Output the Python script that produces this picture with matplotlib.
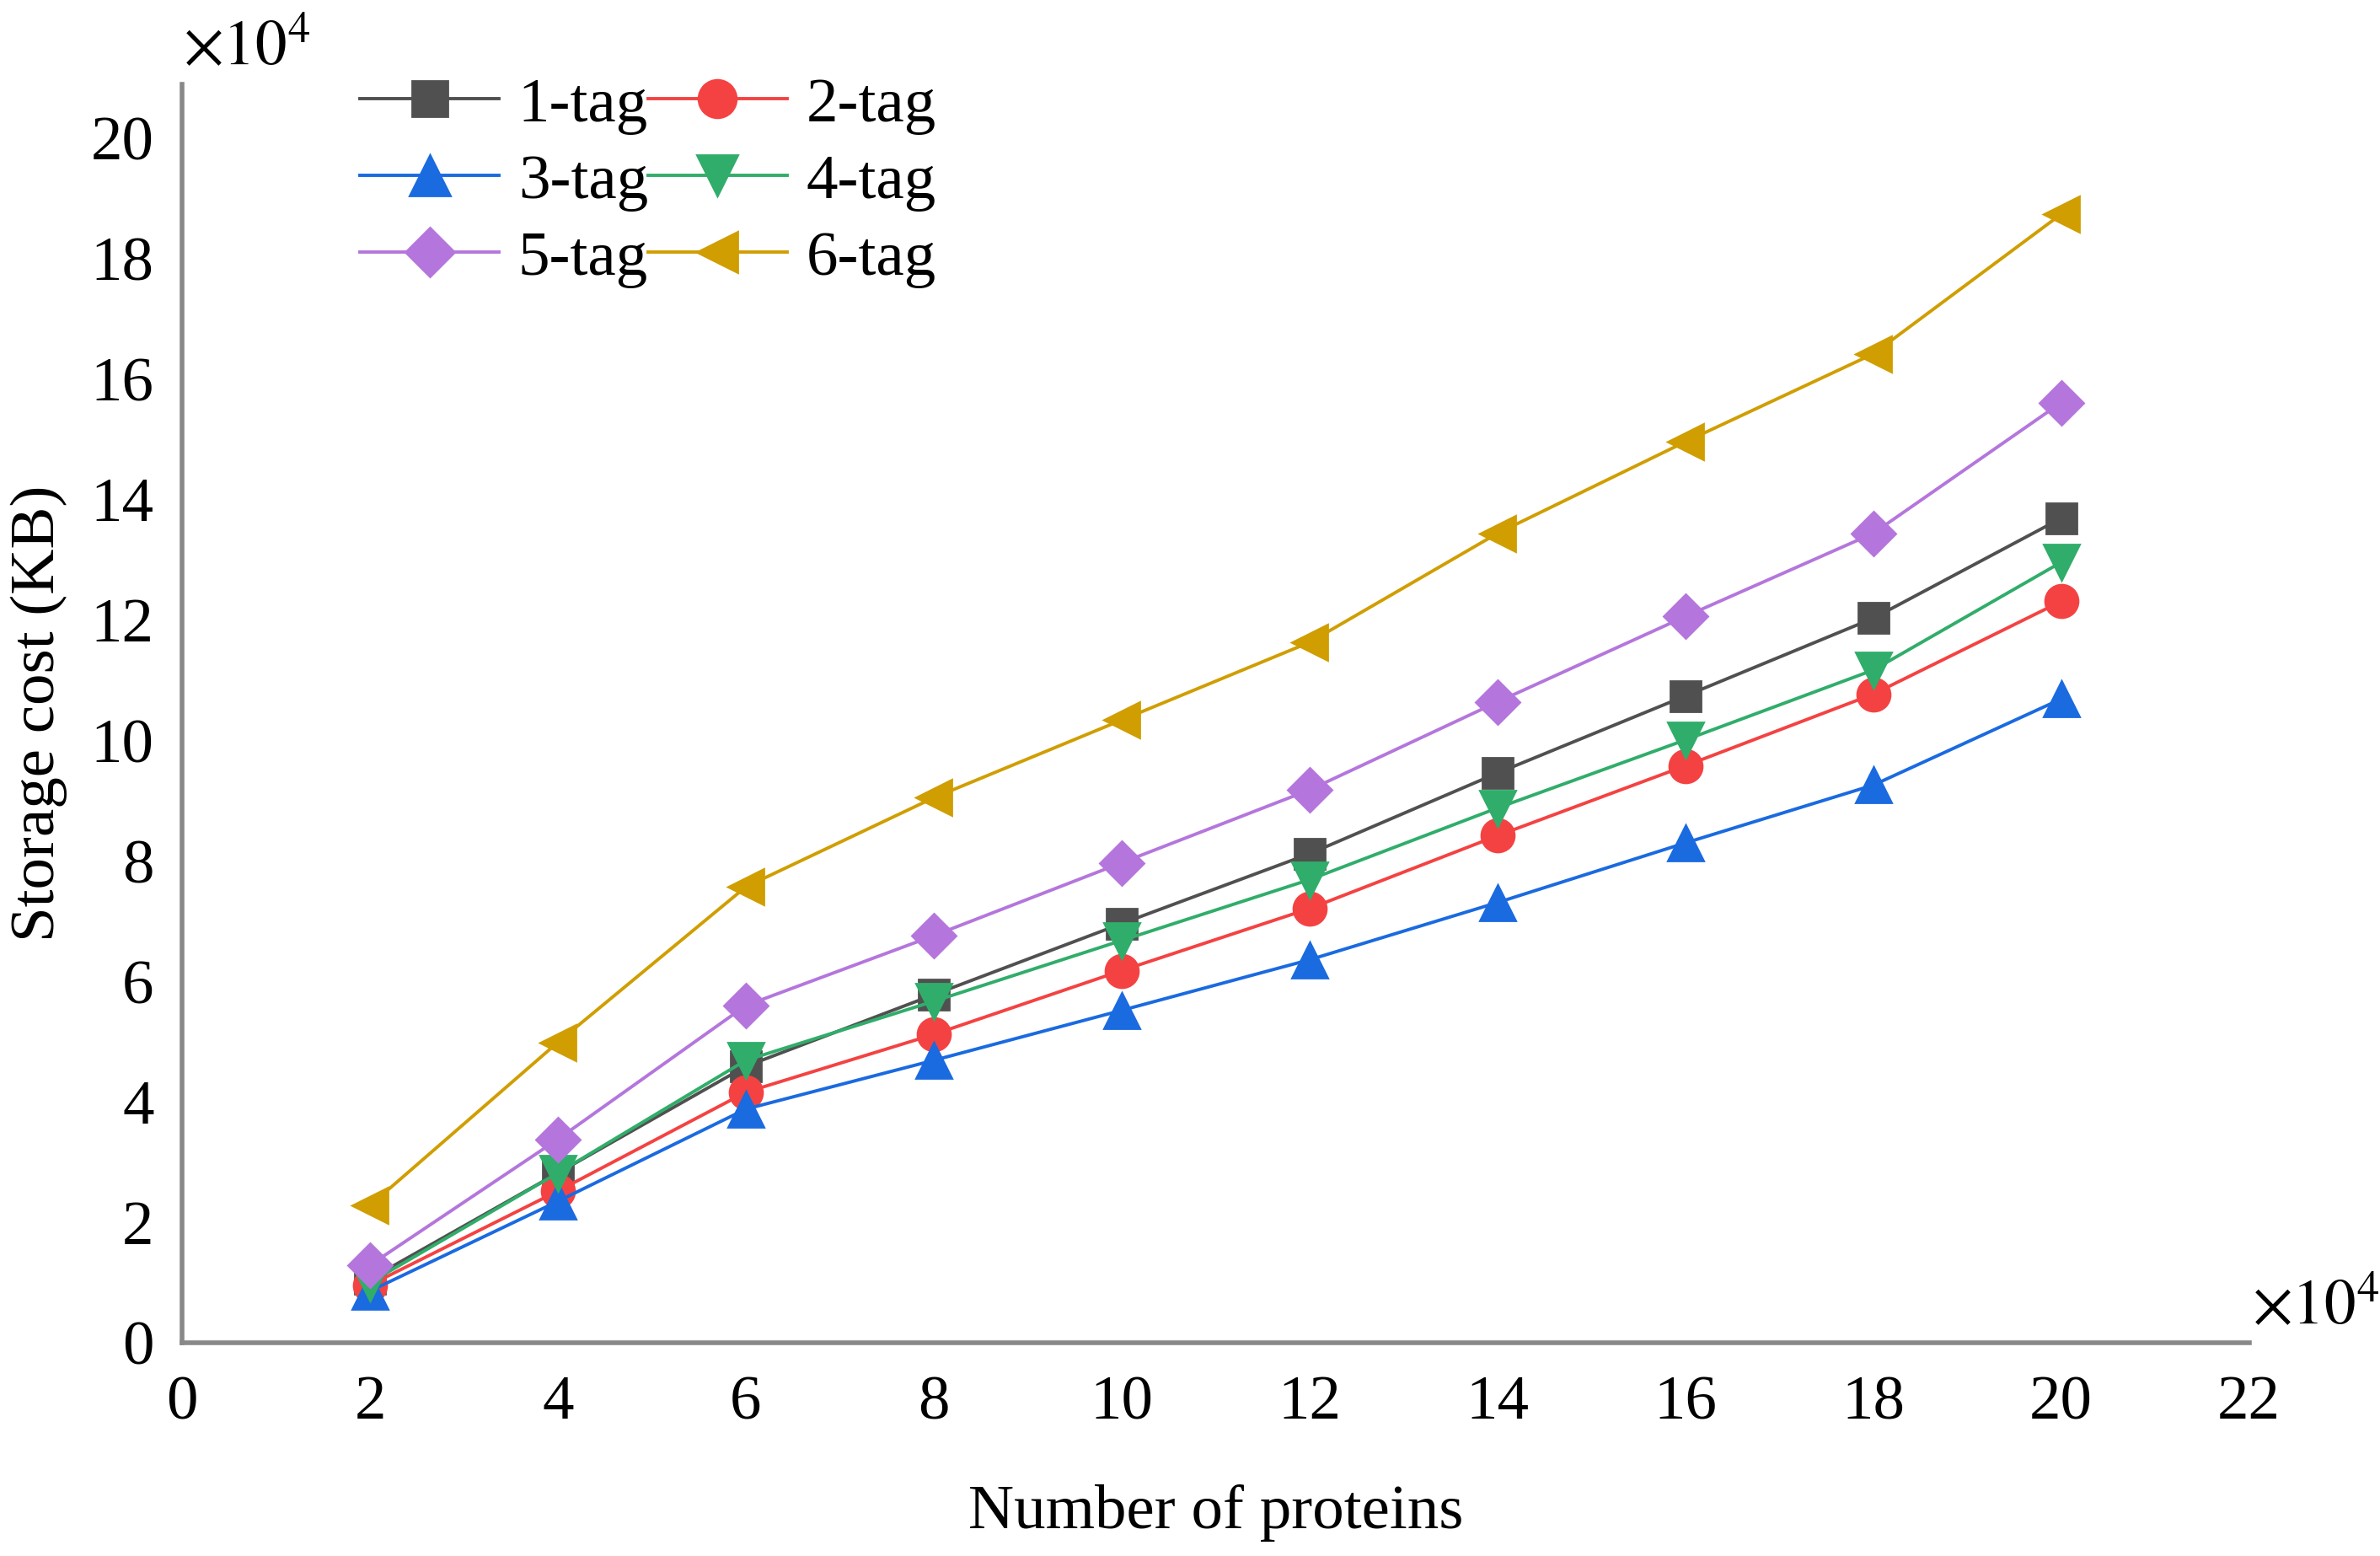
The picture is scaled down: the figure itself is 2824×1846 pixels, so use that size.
import matplotlib
matplotlib.use('Agg')
import matplotlib.pyplot as plt
from matplotlib import rcParams

rcParams['font.family'] = ['Liberation Serif', 'DejaVu Serif']
rcParams['mathtext.fontset'] = 'stix'

# number of proteins (x10^4)
proteins = [2, 4, 6, 8, 10, 12, 14, 16, 18, 20]

# storage cost in KB (x10^4)
tag1 = [1.06, 2.82, 4.59, 5.78, 6.96, 8.12, 9.46, 10.74, 12.03, 13.69]
tag2 = [0.96, 2.52, 4.16, 5.12, 6.18, 7.21, 8.42, 9.58, 10.77, 12.31]
tag3 = [0.86, 2.35, 3.88, 4.69, 5.52, 6.36, 7.31, 8.30, 9.26, 10.69]
tag4 = [1.00, 2.82, 4.69, 5.67, 6.68, 7.69, 8.88, 10.01, 11.17, 12.96]
tag5 = [1.29, 3.38, 5.60, 6.76, 7.97, 9.18, 10.64, 12.06, 13.44, 15.61]
tag6 = [2.28, 4.99, 7.57, 9.05, 10.34, 11.63, 13.44, 14.96, 16.42, 18.74]

labels = ['1-tag', '2-tag', '3-tag', '4-tag', '5-tag', '6-tag']
series = [tag1, tag2, tag3, tag4, tag5, tag6]
colors = ['#505050', '#f44242', '#1a6ae0', '#30ad6a', '#b476dc', '#d09e00']
markers = ['s', 'o', '^', 'v', 'D', '<']
msizes = [13, 14, 15, 15, 13, 15]

fig = plt.figure(figsize=(14.12, 9.23), dpi=200)
ax = fig.add_axes([0.0765, 0.137, 0.8685, 0.809])

lines = []
for y, lab, c, m, ms in zip(series, labels, colors, markers, msizes):
    ln, = ax.plot(proteins, y, color=c, marker=m, markersize=ms, lw=1.4,
                  label=lab)
    lines.append(ln)

ax.set_xlim(0, 22)
ax.set_ylim(0, 20.9)
ax.set_xticks(range(0, 23, 2))
ax.set_yticks(range(0, 21, 2))
ax.tick_params(length=0, labelsize=27)
ax.tick_params(axis='x', pad=14)
ax.tick_params(axis='y', pad=12)

for s in ['top', 'right']:
    ax.spines[s].set_visible(False)
for s in ['left', 'bottom']:
    ax.spines[s].set_color('#888888')
    ax.spines[s].set_linewidth(2)

ax.set_xlabel('Number of proteins', fontsize=27, labelpad=22)
ax.set_ylabel('Storage cost (KB)', fontsize=27, labelpad=10)

fig.text(0.077, 0.968, r'$\times10^4$', fontsize=27, ha='left', va='center')
fig.text(0.946, 0.159, r'$\times10^4$', fontsize=27, ha='left', va='center')

# row-wise legend order: 1,2 / 3,4 / 5,6
order = [0, 2, 4, 1, 3, 5]
ax.legend([lines[i] for i in order], [labels[i] for i in order],
          loc='upper left', bbox_to_anchor=(0.138, 0.971),
          bbox_transform=fig.transFigure, ncol=2, frameon=False,
          fontsize=27, handlelength=2.2, handletextpad=0.3,
          columnspacing=0.0, labelspacing=0.3, borderpad=0,
          markerscale=1.15)

plt.savefig('out.png', dpi=200)
